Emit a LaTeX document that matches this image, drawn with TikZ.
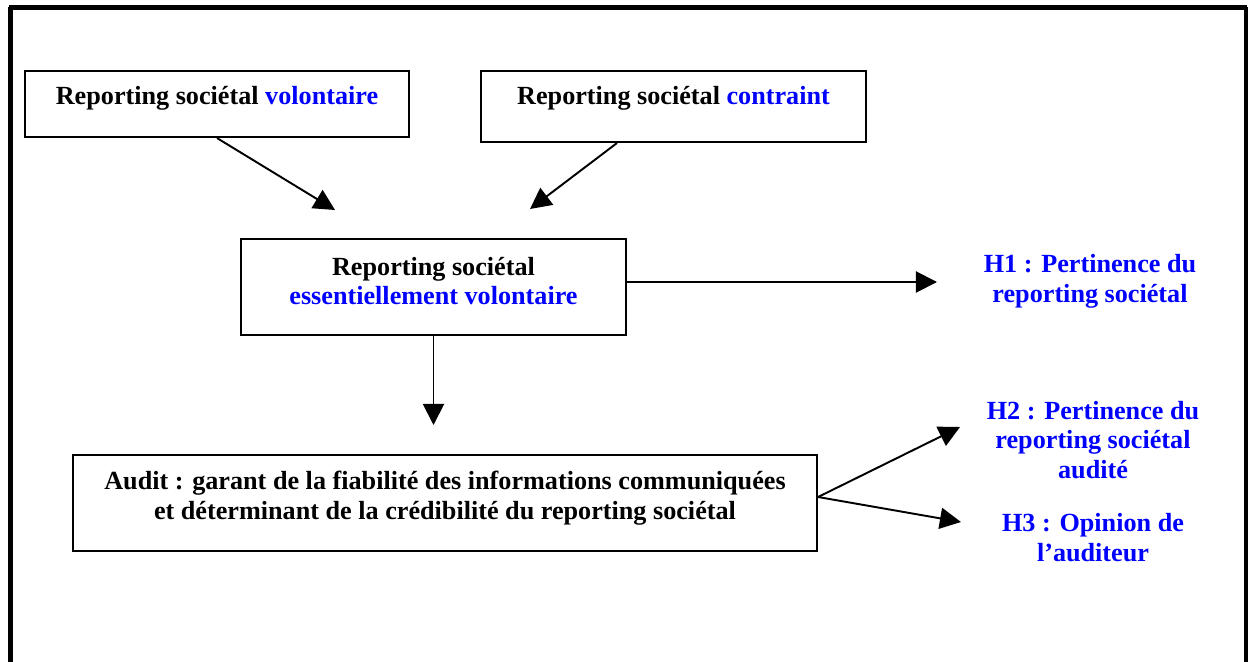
\documentclass[tikz,border=0pt]{standalone}
\usepackage{fontspec}
\setmainfont{Liberation Serif}
\usetikzlibrary{arrows.meta,calc}
\definecolor{hblue}{RGB}{0,0,255}
\tikzset{
  box/.style={draw=black, line width=1.2pt, rectangle, inner sep=0pt},
  txt/.style={font=\bfseries\fontsize{14.9}{17}\selectfont, align=center, inner sep=0pt},
  htxt/.style={txt, text=hblue},
  conn/.style={line width=1.1pt, -{Triangle[length=12pt,width=12pt]}},
  frame/.style={line width=2.4pt}
}
\begin{document}
\begin{tikzpicture}[x=0.02cm, y=-0.02cm]
\useasboundingbox (0,0) rectangle (1250,662);
% outer frame (open at the bottom)
\coordinate (fbl) at (10.5,662);
\coordinate (ftl) at (10.5,7.5);
\coordinate (ftr) at (1246,7.5);
\coordinate (fbr) at (1246,662);
\draw[line width=2.6pt] (fbl) -- (ftl);
\draw[frame] ($(ftl)+(-1.3,0)$) -- ($(ftr)+(1,0)$);
\draw[line width=1.8pt] (ftr) -- (fbr);

% boxes
\node[box, minimum width=384*0.02cm, minimum height=66*0.02cm] (b1) at (217,104) {};
\node[txt] (t1) at (217,98) {Reporting sociétal \textcolor{hblue}{volontaire}};

\node[box, minimum width=385*0.02cm, minimum height=71*0.02cm] (b2) at (673.5,106.5) {};
\node[txt] (t2) at (673.5,98) {Reporting sociétal \textcolor{hblue}{contraint}};

\node[box, minimum width=385*0.02cm, minimum height=96*0.02cm] (b3) at (433.5,287) {};
\node[txt] (t3) at (433.5,281) {Reporting sociétal\\\textcolor{hblue}{essentiellement volontaire}};

\node[box, minimum width=744*0.02cm, minimum height=96*0.02cm] (b4) at (445,503) {};
\node[txt] (t4) at (445,498) {Audit : garant de la fiabilité des informations communiquées\\et déterminant de la crédibilité du reporting sociétal};

% hypotheses
\node[htxt] (h1) at (1090,281) {H1 : Pertinence du\\reporting sociétal};
\node[htxt] (h2) at (1093,440) {H2 : Pertinence du\\reporting sociétal\\audité};
\node[htxt] (h3) at (1093,538) {H3 : Opinion de\\l’auditeur};

% arrow end points
\coordinate (e1) at (335,210);
\coordinate (e2) at (530,209);
\coordinate (e3) at (433.5,425);
\coordinate (e4) at (937,282);
\coordinate (e5) at (960,427);
\coordinate (e6) at (961,522);
\coordinate (s2) at ($(b2.south west)+(137,0)$);
\coordinate (s4) at ($(b3.east)+(0,-5)$);
\coordinate (s5) at ($(b4.east)+(0,-6)$);

\draw[conn] (b1.south) -- (e1);
\draw[conn] (s2) -- (e2);
\draw[conn] (b3.south) -- (e3);
\draw[conn] (s4) -- (e4);
\draw[conn] (s5) -- (e5);
\draw[conn] (s5) -- (e6);
\end{tikzpicture}
\end{document}
